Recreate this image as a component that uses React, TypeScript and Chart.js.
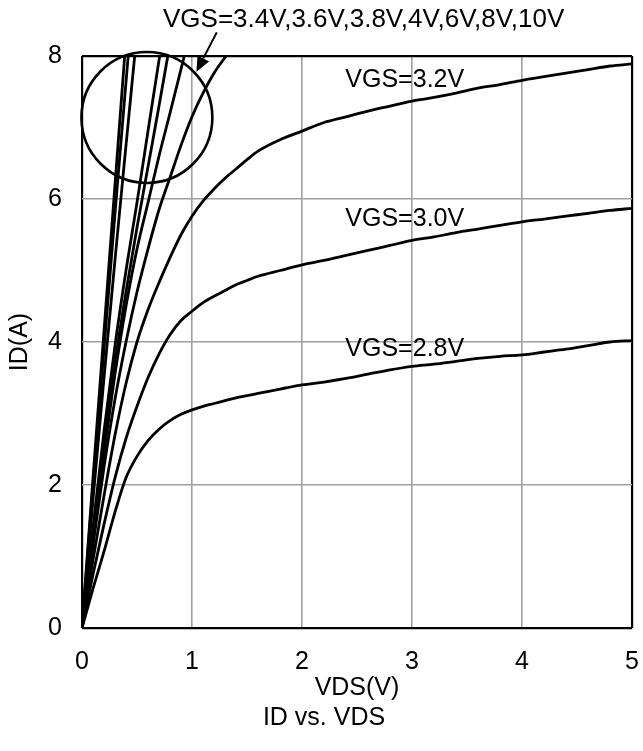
import React, { useEffect, useRef } from "react";
import { Chart, registerables } from "chart.js";

Chart.register(...registerables);

// ---- Data ----
const VDS_LONG = [0, 0.1, 0.2, 0.3, 0.4, 0.5, 0.6, 0.7, 0.8, 0.9, 1.0, 1.1, 1.2, 1.3, 1.4, 1.5, 1.6, 1.8, 2.0, 2.2, 2.4, 2.6, 2.8, 3.0, 3.2, 3.4, 3.6, 3.8, 4.0, 4.2, 4.4, 4.6, 4.8, 5.0];
const ID_VGS_2V8 = [0, 0.55, 1.07, 1.62, 2.1, 2.4, 2.62, 2.78, 2.9, 2.99, 3.05, 3.1, 3.14, 3.18, 3.22, 3.25, 3.28, 3.34, 3.4, 3.44, 3.49, 3.55, 3.61, 3.66, 3.69, 3.73, 3.77, 3.8, 3.82, 3.86, 3.9, 3.95, 4.0, 4.02];
const ID_VGS_3V0 = [0, 0.75, 1.45, 2.1, 2.65, 3.1, 3.5, 3.83, 4.1, 4.3, 4.43, 4.55, 4.64, 4.72, 4.8, 4.86, 4.92, 5.0, 5.08, 5.14, 5.21, 5.28, 5.35, 5.42, 5.47, 5.53, 5.58, 5.63, 5.68, 5.72, 5.76, 5.8, 5.84, 5.87];
const ID_VGS_3V2 = [0, 0.95, 1.85, 2.7, 3.42, 4.0, 4.45, 4.83, 5.18, 5.5, 5.76, 5.97, 6.14, 6.29, 6.42, 6.55, 6.67, 6.83, 6.95, 7.07, 7.15, 7.23, 7.3, 7.37, 7.42, 7.48, 7.55, 7.6, 7.66, 7.71, 7.76, 7.81, 7.86, 7.89];

const VDS_3V4 = [0, 0.1, 0.2, 0.3, 0.4, 0.5, 0.6, 0.7, 0.8, 0.9, 1.0, 1.1, 1.2, 1.31];
const ID_VGS_3V4 = [0, 1.15, 2.25, 3.2, 4.0, 4.7, 5.3, 5.85, 6.3, 6.75, 7.15, 7.48, 7.76, 8.0];
const VDS_3V6 = [0, 0.1, 0.2, 0.3, 0.4, 0.5, 0.6, 0.7, 0.8, 0.93];
const ID_VGS_3V6 = [0, 1.25, 2.45, 3.55, 4.5, 5.3, 5.95, 6.6, 7.2, 8.0];
const VDS_3V8 = [0, 0.1, 0.2, 0.3, 0.4, 0.5, 0.6, 0.7, 0.78];
const ID_VGS_3V8 = [0, 1.3, 2.55, 3.7, 4.7, 5.6, 6.45, 7.3, 8.0];
const VDS_4V = [0, 0.1, 0.2, 0.3, 0.4, 0.5, 0.6, 0.706];
const ID_VGS_4V = [0, 1.4, 2.75, 3.95, 5.0, 5.95, 6.95, 8.0];
const VDS_6V = [0, 0.1, 0.2, 0.3, 0.4, 0.479];
const ID_VGS_6V = [0, 1.8, 3.5, 5.15, 6.75, 8.0];
const VDS_8V = [0, 0.1, 0.2, 0.3, 0.42];
const ID_VGS_8V = [0, 2.0, 3.9, 5.8, 8.0];
const VDS_10V = [0, 0.1, 0.2, 0.3, 0.388];
const ID_VGS_10V = [0, 2.1, 4.15, 6.2, 8.0];

const X_TICKS = [0, 1, 2, 3, 4, 5];
const Y_TICKS = [0, 2, 4, 6, 8];

const CHART_TITLE = "ID vs. VDS";
const X_TITLE = "VDS(V)";
const Y_TITLE = "ID(A)";

// curve labels: [text, x (V), y (A)]
const CURVE_LABELS: [string, number, number][] = [
  ["VGS=3.2V", 2.934, 7.66],
  ["VGS=3.0V", 2.934, 5.72],
  ["VGS=2.8V", 2.934, 3.9],
];
const GROUP_LABEL = "VGS=3.4V,3.6V,3.8V,4V,6V,8V,10V";
const GROUP_LABEL_POS = [2.56, 8.51];
const CIRCLE_CENTER = [0.59, 7.14];
const CIRCLE_RADIUS_V = 0.595;
const ARROW_FROM = [1.225, 8.33];
const ARROW_TO = [1.04, 7.78];

const FONT = "'Liberation Sans', Arial, sans-serif";

function pts(xs: number[], ys: number[]) {
  return xs.map((x, i) => ({ x, y: ys[i] }));
}

const annotationPlugin = {
  id: "annots",
  afterDatasetsDraw(chart: any) {
    const { ctx, scales } = chart;
    const xs = scales.x;
    const ys = scales.y;
    const px = (v: number) => xs.getPixelForValue(v);
    const py = (v: number) => ys.getPixelForValue(v);
    ctx.save();
    ctx.fillStyle = "#000";
    ctx.strokeStyle = "#000";
    ctx.font = `25px ${FONT}`;
    ctx.textAlign = "center";
    ctx.textBaseline = "middle";
    for (const [t, x, y] of CURVE_LABELS) {
      ctx.fillText(t, px(x), py(y));
    }
    ctx.font = `26px ${FONT}`;
    ctx.fillText(GROUP_LABEL, px(GROUP_LABEL_POS[0]), py(GROUP_LABEL_POS[1]));

    // circle
    const cx = px(CIRCLE_CENTER[0]);
    const cy = py(CIRCLE_CENTER[1]);
    const r = px(CIRCLE_CENTER[0] + CIRCLE_RADIUS_V) - cx;
    ctx.lineWidth = 2.6;
    ctx.beginPath();
    ctx.arc(cx, cy, r, 0, Math.PI * 2);
    ctx.stroke();

    // arrow
    const x1 = px(ARROW_FROM[0]);
    const y1 = py(ARROW_FROM[1]);
    const x2 = px(ARROW_TO[0]);
    const y2 = py(ARROW_TO[1]);
    const ang = Math.atan2(y2 - y1, x2 - x1);
    const headLen = 15;
    const headW = 6.5;
    const bx = x2 - headLen * Math.cos(ang);
    const by = y2 - headLen * Math.sin(ang);
    ctx.lineWidth = 2;
    ctx.beginPath();
    ctx.moveTo(x1, y1);
    ctx.lineTo(bx, by);
    ctx.stroke();
    ctx.beginPath();
    ctx.moveTo(x2, y2);
    ctx.lineTo(bx + headW * Math.sin(ang), by - headW * Math.cos(ang));
    ctx.lineTo(bx - headW * Math.sin(ang), by + headW * Math.cos(ang));
    ctx.closePath();
    ctx.fill();
    ctx.restore();
  },
};

export default function App() {
  const ref = useRef<HTMLCanvasElement | null>(null);
  useEffect(() => {
    if (!ref.current) return;
    const series: [number[], number[]][] = [
      [VDS_LONG, ID_VGS_2V8],
      [VDS_LONG, ID_VGS_3V0],
      [VDS_LONG, ID_VGS_3V2],
      [VDS_3V4, ID_VGS_3V4],
      [VDS_3V6, ID_VGS_3V6],
      [VDS_3V8, ID_VGS_3V8],
      [VDS_4V, ID_VGS_4V],
      [VDS_6V, ID_VGS_6V],
      [VDS_8V, ID_VGS_8V],
      [VDS_10V, ID_VGS_10V],
    ];
    const edgeX = (v: number) => v === X_TICKS[0] || v === X_TICKS[X_TICKS.length - 1];
    const edgeY = (v: number) => v === Y_TICKS[0] || v === Y_TICKS[Y_TICKS.length - 1];
    const chart = new Chart(ref.current, {
      type: "line",
      data: {
        datasets: series.map(([xs, ys]) => ({
          data: pts(xs, ys),
          borderColor: "#000",
          borderWidth: 2.8,
          pointRadius: 0,
          fill: false,
          cubicInterpolationMode: "monotone" as const,
        })),
      },
      options: {
        animation: false,
        responsive: true,
        maintainAspectRatio: false,
        layout: { padding: { top: 56, right: 0, bottom: 18, left: 5 } },
        plugins: {
          legend: { display: false },
          tooltip: { enabled: false },
          title: {
            display: true,
            text: CHART_TITLE,
            position: "bottom",
            color: "#000",
            font: { size: 25, family: FONT, weight: "normal" },
            padding: 0,
          },
        },
        scales: {
          x: {
            type: "linear",
            min: 0,
            max: 5,
            afterBuildTicks: (s: any) => {
              s.ticks = X_TICKS.map((v) => ({ value: v }));
            },
            afterFit: (s: any) => {
              s.height = 75;
              s.paddingLeft = 0;
              s.paddingRight = 11;
            },
            ticks: {
              color: "#000",
              font: { size: 25, family: FONT },
              padding: 19,
              maxRotation: 0,
            },
            grid: {
              drawTicks: false,
              color: (c: any) => (edgeX(c.tick?.value) ? "#000" : "#a0a0a0"),
              lineWidth: (c: any) => (edgeX(c.tick?.value) ? 2.2 : 1.6),
            },
            border: { display: false },
            title: {
              display: true,
              text: X_TITLE,
              color: "#000",
              font: { size: 25, family: FONT },
              padding: 0,
            },
          },
          y: {
            type: "linear",
            min: 0,
            max: 8,
            afterBuildTicks: (s: any) => {
              s.ticks = Y_TICKS.map((v) => ({ value: v }));
            },
            afterFit: (s: any) => {
              s.width = 77;
            },
            ticks: {
              color: "#000",
              font: { size: 25, family: FONT },
              padding: 20,
            },
            grid: {
              drawTicks: false,
              color: (c: any) => (edgeY(c.tick?.value) ? "#000" : "#a0a0a0"),
              lineWidth: (c: any) => (edgeY(c.tick?.value) ? 2.2 : 1.6),
            },
            border: { display: false },
            title: {
              display: true,
              text: Y_TITLE,
              color: "#000",
              font: { size: 25, family: FONT },
              padding: 0,
            },
          },
        },
      },
      plugins: [annotationPlugin],
    });
    return () => chart.destroy();
  }, []);

  return (
    <div style={{ position: "absolute", left: 0, top: 0, width: 643, height: 751, background: "#fff" }}>
      <canvas ref={ref} />
    </div>
  );
}
